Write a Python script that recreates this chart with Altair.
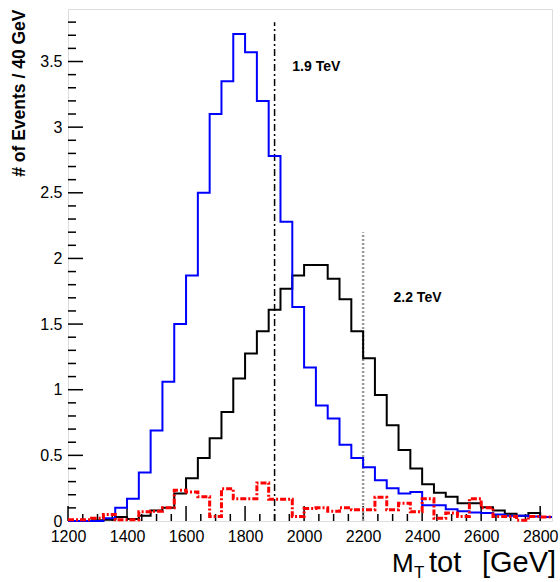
import altair as alt
import pandas as pd

# ---- data ----
bin_low = list(range(1200, 2840, 40))   # 41 bins of 40 GeV
x_last = 2840

blue = [0, 0, 0, 0.02, 0.10, 0.17, 0.37, 0.69, 1.06, 1.50,
        1.87, 2.50, 3.10, 3.35, 3.71, 3.57, 3.20, 2.78, 2.28, 1.63,
        1.17, 0.88, 0.78, 0.58, 0.48, 0.41, 0.31, 0.25, 0.21, 0.22,
        0.12, 0.12, 0.09, 0.075, 0.065, 0.06, 0.05, 0.04, 0.04, 0.035,
        0.03]
black = [0, 0, 0.005, 0.01, 0.03, 0.015, 0.04, 0.08, 0.10, 0.21,
         0.325, 0.48, 0.63, 0.83, 1.085, 1.275, 1.445, 1.61, 1.77, 1.87,
         1.95, 1.95, 1.845, 1.69, 1.445, 1.24, 0.96, 0.73, 0.54, 0.40,
         0.28, 0.215, 0.185, 0.135, 0.135, 0.105, 0.08, 0.055, 0.04, 0.06,
         0.03]
red = [0.01, 0.01, 0.02, 0.05, 0.01, 0.01, 0.07, 0.075, 0.10, 0.235,
       0.22, 0.185, 0.035, 0.245, 0.17, 0.17, 0.29, 0.165, 0.165, 0.035,
       0.095, 0.10, 0.075, 0.10, 0.085, 0.085, 0.18, 0.085, 0.135, 0.07,
       0.17, 0.02, 0.06, 0.035, 0.17, 0.10, 0.035, 0.035, 0.005, 0.035,
       0.03]

x_tick_labels = [1200, 1400, 1600, 1800, 2000, 2200, 2400, 2600, 2800]
x_minor = [v for v in range(1250, 2840, 50) if v % 200 != 0]
y_tick_labels = [0, 0.5, 1, 1.5, 2, 2.5, 3, 3.5]
y_minor = [round(i * 0.1, 1) for i in range(1, 39) if i % 5 != 0]

masses = [1900, 2200]
mass_line_tops = [3.8, 2.2]
mass_labels = ["1.9 TeV", "2.2 TeV"]
label_x = [1960, 2303]
label_y = [3.46, 1.70]

FONT = "Liberation Sans"

xscale = alt.Scale(domain=[1200, 2840], nice=False, zero=False)
yscale = alt.Scale(domain=[0, 3.9], nice=False, zero=True)
xaxis = alt.Axis(values=x_tick_labels, format="d", ticks=False, domain=False,
                 grid=False, labelFontSize=16, labelPadding=7, labelColor="black",
                 labelFont=FONT, labelFlush=False)
yaxis = alt.Axis(values=y_tick_labels, ticks=False, domain=False, grid=False,
                 format="~g", labelFontSize=16, labelPadding=6, labelColor="black",
                 labelFont=FONT, titleFont=FONT,
                 titleFontSize=17.5, titleFontWeight="bold", titleColor="black",
                 titleAngle=270, titleAnchor="end", titleAlign="right",
                 titleBaseline="middle", titleX=-49, titleY=0)


def X(field):
    return alt.X(field, type="quantitative", scale=xscale, axis=xaxis, title=None)


def Y(field):
    return alt.Y(field, type="quantitative", scale=yscale, axis=yaxis,
                 title="# of Events / 40 GeV")


def steps(vals):
    return pd.DataFrame({"x": bin_low + [x_last], "y": vals + [vals[-1]]})


# inward tick marks
ytick_major = alt.Chart(pd.DataFrame({"v": y_tick_labels})).mark_rule(
    color="black", strokeWidth=1.5).encode(y=Y("v"), x=alt.value(0), x2=alt.value(15))
ytick_minor = alt.Chart(pd.DataFrame({"v": y_minor})).mark_rule(
    color="black", strokeWidth=1.5).encode(y=Y("v"), x=alt.value(0), x2=alt.value(8))
xtick_major = alt.Chart(pd.DataFrame({"v": x_tick_labels})).mark_rule(
    color="black", strokeWidth=1.5).encode(x=X("v"), y=alt.value(512), y2=alt.value(497))
xtick_minor = alt.Chart(pd.DataFrame({"v": x_minor})).mark_rule(
    color="black", strokeWidth=1.5).encode(x=X("v"), y=alt.value(512), y2=alt.value(505))

mass_df = pd.DataFrame({"m": masses, "base": [0, 0], "top": mass_line_tops,
                        "label": mass_labels, "lx": label_x, "ly": label_y})
line19 = alt.Chart(mass_df.iloc[[0]]).mark_rule(
    color="black", strokeWidth=1.5, strokeDash=[7, 3, 2, 3]).encode(
    x=X("m"), y=Y("base"), y2="top")
line22 = alt.Chart(mass_df.iloc[[1]]).mark_rule(
    color="#999999", strokeWidth=2.5, strokeDash=[2, 2]).encode(
    x=X("m"), y=Y("base"), y2="top")

h_black = alt.Chart(steps(black)).mark_line(
    interpolate="step-after", color="black", strokeWidth=2).encode(x=X("x"), y=Y("y"))
h_blue = alt.Chart(steps(blue)).mark_line(
    interpolate="step-after", color="#0000ff", strokeWidth=2).encode(x=X("x"), y=Y("y"))
h_red = alt.Chart(steps(red)).mark_line(
    interpolate="step-after", color="#ff0000", strokeWidth=3,
    strokeDash=[6, 2, 2, 2]).encode(x=X("x"), y=Y("y"))

labels = alt.Chart(mass_df).mark_text(
    font=FONT, fontSize=14, fontWeight="bold", align="left", baseline="middle",
    color="black").encode(x=X("lx"), y=Y("ly"), text="label:N")

# x-axis title "M_T tot  [GeV]" built from pieces (subscript T)
title_parts = ["M", "T", "tot", "[GeV]"]
title_sizes = [26, 17, 29, 29]
title_px = [324, 346, 361, 414]
title_py = [563, 569, 563, 563]
title_marks = [
    alt.Chart(pd.DataFrame({"t": [p]})).mark_text(
        font=FONT, fontSize=s, align="left", baseline="alphabetic", color="black"
    ).encode(x=alt.value(px), y=alt.value(py), text="t:N")
    for p, s, px, py in zip(title_parts, title_sizes, title_px, title_py)
]

chart = alt.layer(
    ytick_major, ytick_minor, xtick_major, xtick_minor,
    line19, line22, h_black, h_blue, h_red,
    labels, *title_marks,
).properties(
    width=484, height=512,
    autosize=alt.AutoSizeParams(type="none"),
    padding={"left": 68, "top": 9, "right": 8, "bottom": 61},
).configure_view(
    stroke="black", strokeWidth=2
).configure(font=FONT)

chart.save("out.html", embed_options={"renderer": "svg", "actions": False})
